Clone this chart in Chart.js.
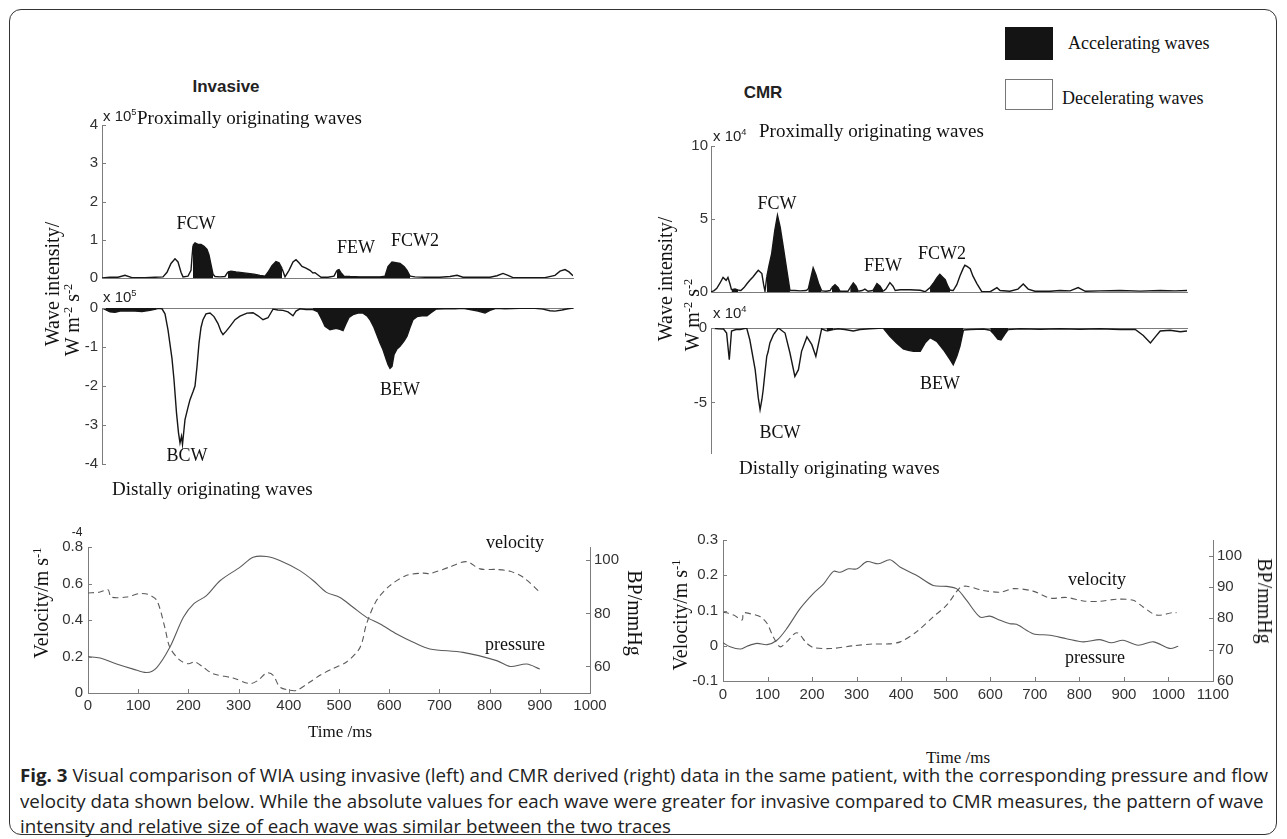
<!DOCTYPE html>
<html><head><meta charset="utf-8">
<script src="https://cdn.jsdelivr.net/npm/chart.js@4.4.1/dist/chart.umd.min.js"></script>
<style>
html,body{margin:0;padding:0;background:#fff;}
#fig{position:relative;width:1287px;height:839px;overflow:hidden;background:#fff;}
canvas{position:absolute;}
.t{position:absolute;white-space:nowrap;line-height:1;}
.serif{font-family:"Liberation Serif","Times New Roman",serif;color:#111;}
.sans{font-family:"Liberation Sans",Arial,sans-serif;color:#222;}
.cap{font-family:"Open Sans","Liberation Sans",sans-serif;color:#222;transform-origin:0 50%;}
sup{font-size:0.62em;vertical-align:0;position:relative;top:-0.6em;}
#frame{position:absolute;left:9px;top:9px;width:1266px;height:824px;border:1.6px solid #333;border-radius:12px;}
</style></head><body><div id="fig"><div id="frame"></div></div>
<script>
// ---------- DATA ----------
// Invasive, proximally originating waves (W m^-2 s^-2, x 10^5)
const invProxT = [0,16,32,46,60,86,106,122,130,138,146,152,158,162,172,178,180,182,186,192,198,204,210,214,218,222,226,236,246,252,258,268,280,292,304,316,326,332,340,348,354,360,366,374,382,388,394,400,408,416,422,426,432,438,452,464,470,474,478,484,496,516,536,556,566,572,580,588,596,604,610,616,626,646,676,696,710,722,746,776,790,802,812,822,856,886,906,916,926,934,942];
const invProxI = [0,0.02,0.02,0.07,0.01,0.01,0.02,0.03,0.15,0.38,0.5,0.42,0.15,0.03,0.05,0.2,0.55,0.85,0.92,0.88,0.88,0.83,0.75,0.6,0.35,0.1,0.04,0.03,0.04,0.16,0.18,0.16,0.14,0.12,0.1,0.07,0.05,0.15,0.32,0.43,0.4,0.25,0.03,0.2,0.42,0.48,0.4,0.3,0.26,0.2,0.13,0.14,0.08,0.02,0.02,0.05,0.2,0.22,0.14,0.05,0.04,0.03,0.03,0.03,0.05,0.3,0.42,0.4,0.38,0.3,0.2,0.05,0.03,0.02,0.02,0.04,0.07,0.02,0.02,0.02,0.06,0.12,0.07,0.01,0.01,0.01,0.07,0.18,0.22,0.16,0.06];
const invProxAcc = [0,0,0,0,0,0,0,0,0,0,0,0,0,0,0,0,0,1,1,1,1,1,1,1,1,1,0,0,0,1,1,1,1,1,1,1,1,1,1,1,1,1,0,0,0,0,0,0,0,0,0,0,0,0,0,0,1,1,1,1,1,1,1,1,1,1,1,1,1,1,1,1,0,0,0,0,0,0,0,0,0,0,0,0,0,0,0,0,0,0,0];
// Invasive, distally originating waves (x 10^5)
const invDistT = [0,8,16,26,36,52,66,80,96,108,112,120,126,132,140,144,149,153,156,159,161,166,172,176,182,186,190,194,198,202,208,216,224,232,238,242,248,256,266,276,290,302,312,322,332,342,352,362,372,382,388,396,408,422,432,440,446,456,468,476,482,488,494,502,512,522,530,536,544,550,556,562,568,572,576,580,584,590,596,604,610,616,622,630,640,650,658,668,686,706,722,736,752,766,776,788,806,836,866,882,896,906,920,932,942];
const invDistI = [0,-0.05,-0.1,-0.11,-0.08,-0.07,-0.08,-0.09,-0.06,-0.03,-0.01,-0.02,-0.15,-0.56,-1.3,-1.84,-2.69,-3.2,-3.46,-3.29,-3.5,-2.86,-2.55,-2.35,-2.15,-2.0,-1.5,-0.9,-0.5,-0.3,-0.15,-0.13,-0.22,-0.4,-0.6,-0.68,-0.6,-0.47,-0.3,-0.21,-0.13,-0.12,-0.2,-0.3,-0.25,-0.03,-0.05,-0.06,-0.1,-0.2,-0.08,-0.02,-0.04,-0.04,-0.1,-0.3,-0.47,-0.56,-0.52,-0.55,-0.58,-0.4,-0.24,-0.17,-0.13,-0.13,-0.2,-0.3,-0.5,-0.7,-0.9,-1.07,-1.3,-1.45,-1.55,-1.5,-1.2,-1.05,-0.98,-0.85,-0.72,-0.5,-0.3,-0.22,-0.2,-0.2,-0.12,-0.03,-0.02,-0.02,-0.01,-0.04,-0.08,-0.13,-0.06,-0.01,-0.02,-0.01,-0.01,-0.03,-0.07,-0.08,-0.05,-0.02,0];
const invDistAcc = [1,1,1,1,1,1,1,1,1,1,0,0,0,0,0,0,0,0,0,0,0,0,0,0,0,0,0,0,0,0,0,0,0,0,0,0,0,0,0,0,0,0,0,0,0,0,0,0,0,0,0,0,0,1,1,1,1,1,1,1,1,1,1,1,1,1,1,1,1,1,1,1,1,1,1,1,1,1,1,1,1,1,1,1,1,1,1,1,1,1,1,1,1,1,1,1,1,1,0,0,0,0,0,0,0];
// CMR, proximally originating waves (x 10^4)
const cmrProxT = [0,7,13,20,27,34,38,43,46,54,61,67,74,81,87,94,101,106,114,118,121,125,130,136,143,149,155,162,170,177,188,200,213,218,224,229,235,241,248,258,267,271,278,285,289,307,312,319,325,330,339,345,352,363,372,379,386,392,401,408,413,424,446,469,480,491,498,507,513,520,525,531,536,543,551,558,565,569,574,581,587,596,607,626,641,648,670,688,700,711,726,760,782,805,823,839,872,917,962,1007,1040,1067];
const cmrProxI = [0,0.1,0.25,0.6,1.0,0.8,1.0,0.5,0.15,0.2,0.12,0.1,0.3,0.58,0.8,1.03,1.3,1.49,1.26,0.5,0.05,1.03,1.8,2.63,4.23,5.26,4.46,3.09,1.49,0.1,0.1,0.08,0.1,0.2,1.0,1.65,1.2,0.6,0.08,0.05,0.1,0.3,0.5,0.3,0.05,0.05,0.3,0.62,0.4,0.05,0.1,0.2,0.05,0.1,0.58,0.4,0.05,0.2,0.64,0.4,0.1,0.15,0.15,0.12,0.02,0.3,0.58,1.0,1.21,1.0,0.85,0.4,0.12,0.1,0.5,1.1,1.6,1.83,1.75,1.6,1.1,0.58,0.02,0.02,0.3,0.1,0.05,0.2,0.55,0.2,0.05,0.05,0.1,0.08,0.3,0.05,0.08,0.1,0.06,0.1,0.08,0.1];
const cmrProxAcc = [0,0,0,0,0,0,0,0,1,1,1,0,0,0,0,0,0,0,0,0,0,1,1,1,1,1,1,1,1,1,0,0,0,1,1,1,1,1,1,0,0,1,1,1,1,0,1,1,1,1,0,0,0,1,1,1,1,0,0,0,0,0,0,0,0,1,1,1,1,1,1,1,1,0,0,0,0,0,0,0,0,0,0,0,0,0,0,0,0,0,0,0,0,0,0,0,0,0,0,0,0,0];
// CMR, distally originating waves (x 10^4)
const cmrDistT = [0,16,28,35,41,46,56,65,80,87,99,106,110,114,117,121,125,128,132,140,151,166,177,188,196,203,215,226,235,248,259,274,285,300,319,334,356,386,401,416,431,442,454,469,480,491,506,521,536,543,551,558,566,581,611,626,634,643,650,659,666,693,738,782,827,872,917,951,969,985,996,1007,1029,1052,1067];
const cmrDistI = [0,-0.05,-0.07,-0.34,-2.13,-0.2,-0.1,-0.1,0,-0.79,-2.8,-4.7,-5.49,-4.82,-4.15,-3.0,-1.9,-1.6,-1.0,-0.45,0,-0.34,-1.68,-3.25,-2.8,-1.57,-0.6,-1.12,-1.9,-0.05,-0.2,-0.1,-0.05,-0.1,-0.2,-0.1,-0.05,0,-0.56,-1.0,-1.41,-1.5,-1.57,-1.57,-1.0,-0.65,-0.9,-1.46,-2.13,-2.47,-1.9,-1.23,-0.13,-0.1,-0.07,-0.15,-0.4,-0.75,-0.8,-0.4,-0.1,-0.05,-0.08,-0.05,-0.08,-0.05,-0.1,-0.1,-0.5,-1.0,-0.6,-0.2,-0.15,-0.25,-0.2];
const cmrDistAcc = [0,0,0,0,0,0,0,0,0,0,0,0,0,0,0,0,0,0,0,0,0,0,0,0,0,0,0,0,0,0,1,1,0,0,0,0,0,1,1,1,1,1,1,1,1,1,1,1,1,1,1,1,1,0,0,1,1,1,1,1,1,0,0,0,0,0,0,0,0,0,0,0,0,0,0];
// Invasive velocity (m/s) and pressure (mmHg)
const invVelT = [0,24,40,46,77,103,120,137,153,163,183,200,213,230,249,289,323,339,356,369,382,402,416,442,462,488,515,542,555,575,602,635,668,681,720,754,781,814,841,867,900];
const invVel = [0.548,0.553,0.566,0.526,0.526,0.545,0.54,0.508,0.36,0.25,0.18,0.16,0.17,0.14,0.106,0.082,0.051,0.07,0.11,0.097,0.033,0.015,0.015,0.06,0.097,0.134,0.17,0.25,0.38,0.508,0.59,0.645,0.657,0.654,0.69,0.72,0.68,0.677,0.667,0.634,0.553];
const invBPT = [0,24,57,90,117,137,163,190,210,236,263,303,329,356,382,422,449,475,502,528,555,582,615,648,681,747,814,841,874,900];
const invBP = [63.7,63.2,60.9,59.0,57.7,59.6,67.2,78.5,83.5,86.7,92.3,97.4,101.1,101.4,99.9,96.1,92.3,87.9,86.0,82.3,78.5,76.0,72.2,69.1,66.6,65.3,62.2,60.0,60.9,59.0];
// CMR velocity (m/s) and pressure (mmHg)
const cmrVelT = [0,24,43,46,61,84,99,113,128,143,166,188,203,241,293,338,368,398,435,472,502,532,547,584,622,652,696,734,771,809,846,883,921,943,973,1010,1018];
const cmrVel = [0.096,0.087,0.073,0.093,0.091,0.082,0.063,0.025,-0.003,0.011,0.037,0.007,-0.005,-0.008,0,0.005,0.005,0.011,0.04,0.082,0.115,0.165,0.169,0.157,0.152,0.162,0.155,0.135,0.137,0.127,0.126,0.132,0.129,0.11,0.087,0.094,0.094];
const cmrBPT = [0,16,39,54,76,99,121,143,173,203,226,248,263,282,301,323,349,375,398,435,472,502,525,547,577,599,622,644,659,696,734,771,809,846,872,898,932,966,1003,1022];
const cmrBP = [72.2,70.9,70.2,71.1,72.0,71.6,73.0,76.7,83.1,88.0,91.0,95.0,94.7,95.8,95.8,98.1,97.4,98.7,96.3,93.7,90.5,90.2,89.4,85.7,80.4,80.7,79.4,78.3,78.1,75.1,74.6,73.5,72.5,73.2,72.2,73.0,71.4,72.5,70.4,71.1];
// Tick labels
const invProxTicks = [0,1,2,3,4];
const invDistTicks = [0,-1,-2,-3,-4];
const cmrProxTicks = [0,5,10];
const cmrDistTicks = [0,-5];
const invVelTicks = [0,0.2,0.4,0.6,0.8];
const invBPTicks = [60,80,100];
const invTimeTicks = [0,100,200,300,400,500,600,700,800,900,1000];
const cmrVelTicks = [-0.1,0,0.1,0.2,0.3];
const cmrBPTicks = [60,70,80,90,100];
const cmrTimeTicks = [0,100,200,300,400,500,600,700,800,900,1000,1100];

// ---------- DRAWING ----------
const fig = document.getElementById('fig');
const AXIS = '#7c7c7c';
const TICK_FONT = {family: "'Liberation Sans', Arial, sans-serif", size: 15};
const P = 20;

const inTicks = {
  id: 'inTicks',
  afterDraw(chart, args, opts) {
    const ctx = chart.ctx, len = 4;
    ctx.save(); ctx.strokeStyle = AXIS; ctx.lineWidth = 1;
    for (const id of (opts.ids || [])) {
      const s = chart.scales[id];
      if (!s) continue;
      s.ticks.forEach(t => {
        const p = Math.round(s.getPixelForValue(t.value)) + 0.5;
        ctx.beginPath();
        if (s.isHorizontal()) {
          const y = s.position === 'top' ? s.bottom : s.top;
          const d = s.position === 'top' ? 1 : -1;
          ctx.moveTo(p, y); ctx.lineTo(p, y + d * len);
        } else {
          const x = s.position === 'left' ? s.right : s.left;
          const d = s.position === 'left' ? 1 : -1;
          ctx.moveTo(x, p); ctx.lineTo(x + d * len, p);
        }
        ctx.stroke();
      });
    }
    ctx.restore();
  }
};

function linScale(o) {
  return {
    type: 'linear', position: o.pos, min: o.min, max: o.max, display: true,
    grid: {display: false, drawTicks: false},
    border: {display: true, color: AXIS, width: 1},
    ticks: {display: !!o.ticks, padding: o.pad == null ? 4 : o.pad, color: '#333', font: TICK_FONT,
            callback: v => String(v), autoSkip: false, maxRotation: 0, minRotation: 0},
    afterBuildTicks: s => { if (o.ticks) s.ticks = o.ticks.map(v => ({value: v})); },
    afterFit: s => { if (s.isHorizontal()) s.height = o.size; else s.width = o.size; }
  };
}

function build(area, scales, datasets, tickIds) {
  const sz = {left: 0, right: 0, top: 0, bottom: 0};
  for (const k in scales) sz[scales[k].pos] += scales[k].size;
  const c = document.createElement('canvas');
  const left = area.l - sz.left - P, top = area.t - sz.top - P;
  const w = area.r - area.l + sz.left + sz.right + 2 * P;
  const h = area.b - area.t + sz.top + sz.bottom + 2 * P;
  c.width = w; c.height = h;
  c.style.left = left + 'px'; c.style.top = top + 'px';
  c.style.width = w + 'px'; c.style.height = h + 'px';
  fig.appendChild(c);
  const sc = {};
  for (const k in scales) sc[k] = linScale(scales[k]);
  new Chart(c, {
    type: 'line',
    data: {datasets},
    options: {
      responsive: false, animation: false, devicePixelRatio: 1, events: [],
      layout: {padding: P},
      plugins: {legend: {display: false}, tooltip: {enabled: false}, inTicks: {ids: tickIds}},
      scales: sc
    },
    plugins: [inTicks]
  });
}

function waveSet(T, I, A) {
  return {
    data: T.map((t, i) => ({x: t, y: I[i]})),
    borderColor: '#161616', borderWidth: 1.4, pointRadius: 0, tension: 0,
    fill: 'origin', backgroundColor: 'rgba(0,0,0,0)',
    segment: {backgroundColor: ctx => (A[ctx.p0DataIndex] && A[ctx.p1DataIndex]) ? '#151515' : 'rgba(0,0,0,0)'}
  };
}
function traceSet(T, V, axis, dash) {
  return {
    data: T.map((t, i) => ({x: t, y: V[i]})), yAxisID: axis,
    borderColor: '#5a5a5a', borderWidth: 1.1, borderDash: dash, pointRadius: 0,
    tension: 0.3, fill: false
  };
}

// Invasive waves
build({l: 102, t: 125, r: 573, b: 278},
  {x: {pos: 'bottom', min: 0, max: 942, size: 0}, y: {pos: 'left', min: 0, max: 4, ticks: invProxTicks, size: 40, pad: 4}},
  [waveSet(invProxT, invProxI, invProxAcc)], ['y']);
build({l: 102, t: 308, r: 573, b: 464},
  {x: {pos: 'top', min: 0, max: 942, size: 0}, y: {pos: 'left', min: -4, max: 0, ticks: invDistTicks, size: 40, pad: 4}},
  [waveSet(invDistT, invDistI, invDistAcc)], ['y']);
// CMR waves
build({l: 711, t: 146, r: 1187, b: 292},
  {x: {pos: 'bottom', min: 0, max: 1067, size: 0}, y: {pos: 'left', min: 0, max: 10, ticks: cmrProxTicks, size: 40, pad: 3}},
  [waveSet(cmrProxT, cmrProxI, cmrProxAcc)], ['y']);
build({l: 711, t: 328, r: 1187, b: 453},
  {x: {pos: 'top', min: 0, max: 1067, size: 0}, y: {pos: 'left', min: -8.4, max: 0, ticks: cmrDistTicks, size: 40, pad: 4}},
  [waveSet(cmrDistT, cmrDistI, cmrDistAcc)], ['y']);
// Velocity / pressure
build({l: 88, t: 547, r: 590, b: 693},
  {x: {pos: 'bottom', min: 0, max: 1000, ticks: invTimeTicks, size: 26, pad: 4},
   y: {pos: 'left', min: 0, max: 0.8, ticks: invVelTicks, size: 45, pad: 5},
   y2: {pos: 'right', min: 50, max: 105, ticks: invBPTicks, size: 45, pad: 4}},
  [traceSet(invVelT, invVel, 'y', [6, 4]), traceSet(invBPT, invBP, 'y2', [])], ['x', 'y', 'y2']);
build({l: 723, t: 540, r: 1213, b: 681},
  {x: {pos: 'bottom', min: 0, max: 1100, ticks: cmrTimeTicks, size: 26, pad: 5},
   y: {pos: 'left', min: -0.1, max: 0.3, ticks: cmrVelTicks, size: 45, pad: 5},
   y2: {pos: 'right', min: 60, max: 105, ticks: cmrBPTicks, size: 45, pad: 4}},
  [traceSet(cmrVelT, cmrVel, 'y', [6, 4]), traceSet(cmrBPT, cmrBP, 'y2', [])], ['x', 'y', 'y2']);

// ---------- TEXT ----------
function txt(html, x, y, o = {}) {
  const d = document.createElement('div');
  d.className = 't ' + (o.cls || 'serif');
  d.innerHTML = html;
  d.style.left = x + 'px'; d.style.top = y + 'px';
  d.style.fontSize = (o.size || 18) + 'px';
  if (o.weight) d.style.fontWeight = o.weight;
  if (o.color) d.style.color = o.color;
  const ax = o.align === 'left' ? '0' : o.align === 'right' ? '-100%' : '-50%';
  d.style.transform = `translate(${ax},-50%)` + (o.rot ? ` rotate(${o.rot}deg)` : '');
  fig.appendChild(d); return d;
}
function box(l, t, w, h, bg, border) {
  const d = document.createElement('div');
  d.style.cssText = `position:absolute;left:${l}px;top:${t}px;width:${w}px;height:${h}px;background:${bg};box-sizing:border-box;` + (border ? `border:1px solid ${border};` : '');
  fig.appendChild(d);
}

txt('Invasive', 226, 86, {cls: 'sans', size: 17, weight: 'bold'});
txt('CMR', 763, 92, {cls: 'sans', size: 17, weight: 'bold'});
box(1005, 27, 48, 33, '#141414');
box(1005, 79, 48, 31, '#fff', '#777');
txt('Accelerating waves', 1068, 43, {align: 'left', size: 18});
txt('Decelerating waves', 1062, 98, {align: 'left', size: 18});

txt('x 10<sup>5</sup>', 103, 116, {cls: 'sans', size: 15, align: 'left'});
txt('x 10<sup>5</sup>', 103, 297, {cls: 'sans', size: 15, align: 'left'});
txt('x 10<sup>4</sup>', 713, 136, {cls: 'sans', size: 15, align: 'left'});
txt('x 10<sup>4</sup>', 713, 313, {cls: 'sans', size: 15, align: 'left'});
txt('Proximally originating waves', 137, 117, {align: 'left', size: 19});
txt('Proximally originating waves', 759, 130, {align: 'left', size: 19});
txt('Distally originating waves', 112, 488, {align: 'left', size: 19});
txt('Distally originating waves', 739, 467, {align: 'left', size: 19});

txt('FCW', 196, 223); txt('FEW', 356, 247); txt('FCW2', 415, 240);
txt('BCW', 187, 455); txt('BEW', 400, 389);
txt('FCW', 777, 203); txt('FEW', 883, 265); txt('FCW2', 942, 253);
txt('BCW', 780, 432); txt('BEW', 940, 383);

txt('Wave intensity/', 52, 284, {size: 20, rot: -90});
txt('W m<sup>-2</sup> s<sup>-2</sup>', 72, 320, {size: 20, rot: -90});
txt('Wave intensity/', 665, 279, {size: 20, rot: -90});
txt('W m<sup>-2</sup> s<sup>-2</sup>', 692, 315, {size: 20, rot: -90});
txt('Velocity/m s<sup>-1</sup>', 41, 603, {size: 20, rot: -90});
txt('Velocity/m s<sup>-1</sup>', 680, 615, {size: 20, rot: -90});
txt('BP/mmHg', 635, 613, {size: 20, rot: 90});
txt('BP/mmHg', 1265, 601, {size: 20, rot: 90});
txt('-4', 77, 532, {cls: 'sans', size: 12});

txt('velocity', 515, 542); txt('pressure', 515, 644);
txt('velocity', 1097, 579); txt('pressure', 1095, 657);
txt('Time /ms', 340, 731, {size: 17});
txt('Time /ms', 958, 757, {size: 17});

const capLines = [
  '<b>Fig. 3</b> Visual comparison of WIA using invasive (left) and CMR derived (right) data in the same patient, with the corresponding pressure and flow',
  'velocity data shown below. While the absolute values for each wave were greater for invasive compared to CMR measures, the pattern of wave',
  'intensity and relative size of each wave was similar between the two traces'
];
const capY = [775, 801, 826];
const capEls = capLines.map((h, i) => {
  const d = document.createElement('div');
  d.className = 't cap'; d.innerHTML = h;
  d.style.left = '20px'; d.style.top = (capY[i] - 10) + 'px'; d.style.fontSize = '18.5px'; d.style.lineHeight = '20px';
  fig.appendChild(d); return d;
});
const k = 1248 / capEls[0].offsetWidth;
capEls.forEach(d => d.style.transform = `scaleX(${k})`);
</script></body></html>
